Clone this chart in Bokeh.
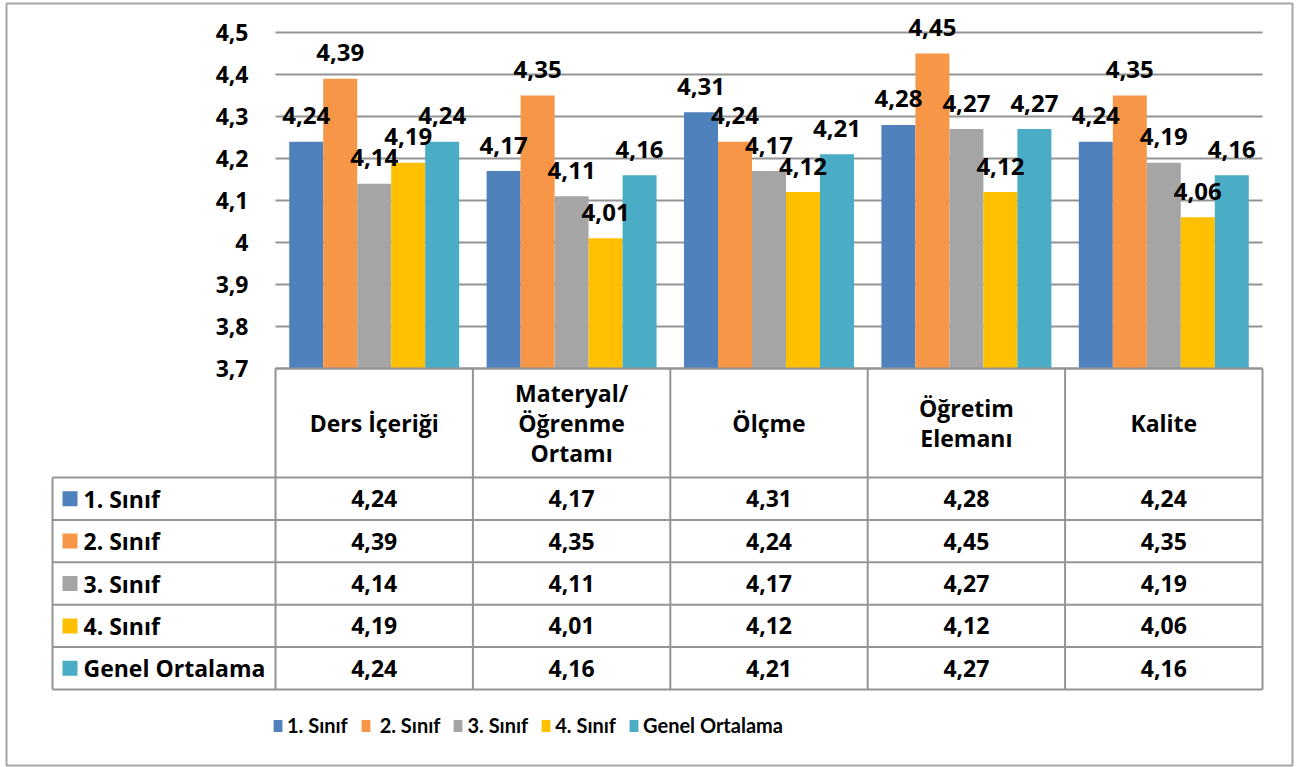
import numpy as np
from bokeh.plotting import figure
from bokeh.models import Range1d, FixedTicker, Legend, LegendItem
from bokeh.core.properties import value
from bokeh.embed import file_html
from bokeh.resources import INLINE

# ---------------- data ----------------
categories = ["Ders İçeriği", "Materyal/\nÖğrenme\nOrtamı", "Ölçme", "Öğretim\nElemanı", "Kalite"]
series_names = ["1. Sınıf", " 2. Sınıf", "3. Sınıf", "4. Sınıf", "Genel Ortalama"]
sinif_1 = [4.24, 4.17, 4.31, 4.28, 4.24]
sinif_2 = [4.39, 4.35, 4.24, 4.45, 4.35]
sinif_3 = [4.14, 4.11, 4.17, 4.27, 4.19]
sinif_4 = [4.19, 4.01, 4.12, 4.12, 4.06]
genel_ortalama = [4.24, 4.16, 4.21, 4.27, 4.16]
colors = ["#4F81BD", "#F79646", "#A5A5A5", "#FFC000", "#4BACC6"]
y_ticks = [3.7, 3.8, 3.9, 4.0, 4.1, 4.2, 4.3, 4.4, 4.5]
y_tick_labels = ["3,7", "3,8", "3,9", "4", "4,1", "4,2", "4,3", "4,4", "4,5"]

series = [sinif_1, sinif_2, sinif_3, sinif_4, genel_ortalama]


def fmt(v):
    return f"{v:.2f}".replace(".", ",")


# ---------------- layout (canvas pixels) ----------------
W, H = 1294, 767
FL, FT, FR, FB = 6, 3, 1292, 765      # frame (outer border) edges
X0 = 275.0          # px of first category boundary
CAT_PX = 197.4      # px per category
Y_BASE = 3.7
Y_BASE_PX = 368.0   # px (from top) of the 3.7 baseline
UNIT_PX = 420.0     # px per value unit
BAR_W = 0.1722      # category units per bar

TABLE_LEFT = 52.0
HEADER_TOP = Y_BASE_PX
ROW_EDGES = [477.0, 519.4, 561.8, 604.2, 646.6, 689.0]

FONT = value("Open Sans")
LINE = "#949494"

n_cat = len(categories)
x_range = Range1d(-(X0 - FL) / CAT_PX, (FR - X0) / CAT_PX)
y_range = Range1d(Y_BASE - (FB - Y_BASE_PX) / UNIT_PX, Y_BASE + (Y_BASE_PX - FT) / UNIT_PX)

p = figure(width=W, height=H, x_range=x_range, y_range=y_range,
           output_backend="svg", toolbar_location=None,
           min_border_left=FL, min_border_right=W - FR,
           min_border_top=FT, min_border_bottom=H - FB,
           outline_line_color="#a6a6a6", outline_line_width=2,
           background_fill_color="white", border_fill_color="white")
p.extra_x_ranges = {"px": Range1d(FL, FR)}
p.extra_y_ranges = {"px": Range1d(FB, FT)}

p.xaxis.visible = False
p.grid.visible = False

yax = p.yaxis[0]
yax.ticker = FixedTicker(ticks=y_ticks)
yax.major_label_overrides = dict(zip(y_ticks, y_tick_labels))
yax.fixed_location = 0
yax.axis_line_color = None
yax.major_tick_line_color = None
yax.minor_tick_line_color = None
yax.major_tick_in = 0
yax.major_tick_out = 0
yax.major_label_standoff = 27
yax.major_label_text_font = "Open Sans"
yax.major_label_text_font_style = "bold"
yax.major_label_text_font_size = "23px"
yax.major_label_text_color = "black"

# gridlines
p.segment(x0=0, x1=n_cat, y0=y_ticks, y1=y_ticks, line_color=LINE, line_width=2)

# bars
bar_renderers = []
bar_x = []
for j, vals in enumerate(series):
    xs = [i + 0.5 + (j - 2) * BAR_W for i in range(n_cat)]
    bar_x.append(xs)
    r = p.vbar(x=xs, top=vals, bottom=Y_BASE, width=BAR_W,
               fill_color=colors[j], line_color=None)
    bar_renderers.append(r)

# data labels (on top of all bars)
for j, vals in enumerate(series):
    p.text(x=bar_x[j], y=vals, text=[fmt(v) for v in vals], text_align="center",
           text_baseline="middle", y_offset=-26, text_font=FONT,
           text_font_style="bold", text_font_size="24px", text_color="black")

# ---------------- data table ----------------
col_edges = [X0 + i * CAT_PX for i in range(n_cat + 1)]
right = col_edges[-1]
vx0, vx1, vy0, vy1 = [], [], [], []
for cx in col_edges:
    vx0.append(cx); vx1.append(cx); vy0.append(HEADER_TOP); vy1.append(ROW_EDGES[-1])
vx0.append(TABLE_LEFT); vx1.append(TABLE_LEFT); vy0.append(ROW_EDGES[0]); vy1.append(ROW_EDGES[-1])
vx0.append(X0); vx1.append(right); vy0.append(HEADER_TOP); vy1.append(HEADER_TOP)
for ry in ROW_EDGES:
    vx0.append(TABLE_LEFT); vx1.append(right); vy0.append(ry); vy1.append(ry)
p.segment(x0=vx0, x1=vx1, y0=vy0, y1=vy1, line_color=LINE, line_width=2,
          x_range_name="px", y_range_name="px")

# header
p.text(x=[i + 0.5 for i in range(n_cat)], y=[(HEADER_TOP + ROW_EDGES[0]) / 2] * n_cat,
       text=categories, y_range_name="px", text_align="center", text_baseline="middle",
       text_font=FONT, text_font_style="bold", text_font_size="23px",
       text_line_height=0.94, text_color="black")

row_centers = [(ROW_EDGES[k] + ROW_EDGES[k + 1]) / 2 for k in range(len(series))]
# legend keys + row labels
p.rect(x=[69.5] * len(series), y=row_centers, width=15, height=15,
       fill_color=colors, line_color=None, x_range_name="px", y_range_name="px")
p.text(x=[83] * len(series), y=row_centers, text=series_names,
       x_range_name="px", y_range_name="px", text_align="left", text_baseline="middle",
       text_font=FONT, text_font_style="bold", text_font_size="23px", text_color="black")
# values
for j, vals in enumerate(series):
    p.text(x=[i + 0.5 for i in range(n_cat)], y=[row_centers[j]] * n_cat,
           text=[fmt(v) for v in vals], y_range_name="px",
           text_align="center", text_baseline="middle",
           text_font=FONT, text_font_style="bold", text_font_size="23px", text_color="black")

# ---------------- legend ----------------
legend = Legend(items=[LegendItem(label=series_names[j], renderers=[bar_renderers[j]])
                       for j in range(len(series))],
                orientation="horizontal", location=(266, 28),
                glyph_width=11, glyph_height=15, label_standoff=4, spacing=12,
                padding=0, margin=0, border_line_alpha=0, background_fill_alpha=0,
                label_text_font="Lato", label_text_font_style="bold",
                label_text_font_size="20px", label_text_color="black")
p.add_layout(legend)

open("out.html", "w").write(file_html(p, INLINE))
